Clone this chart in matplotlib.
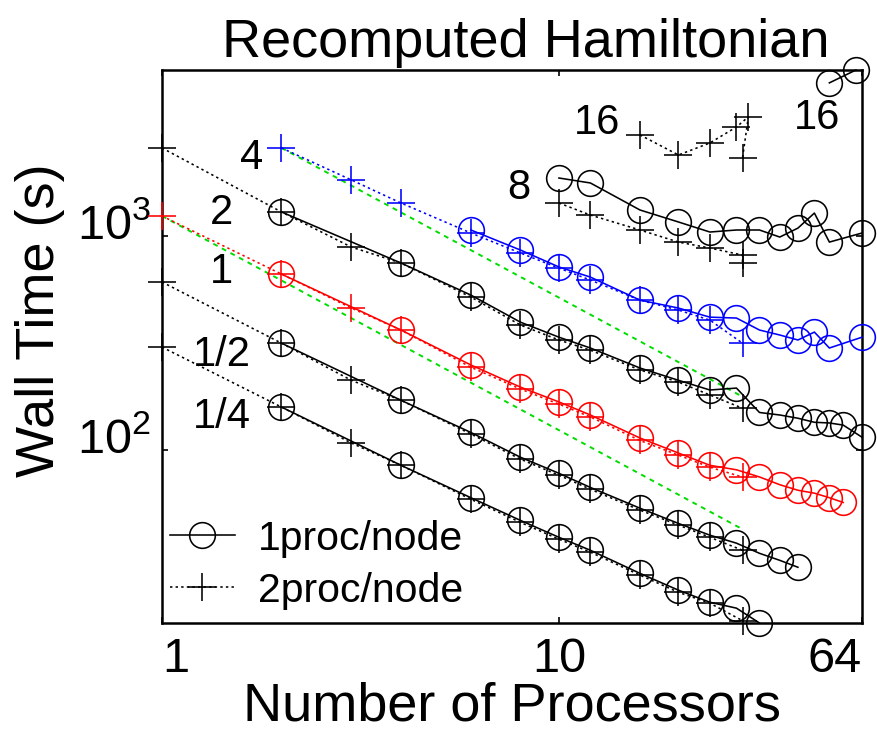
import matplotlib
matplotlib.use('Agg')
import matplotlib.pyplot as plt
import matplotlib.transforms as mtransforms
from matplotlib.lines import Line2D
import numpy as np

plt.rcParams['font.family'] = ['Liberation Sans', 'DejaVu Sans']
plt.rcParams['mathtext.fontset'] = 'custom'
plt.rcParams['mathtext.rm'] = 'Liberation Sans'
plt.rcParams['mathtext.it'] = 'Liberation Sans'
plt.rcParams['mathtext.bf'] = 'Liberation Sans'

# ---------------- data (wall time in seconds) ----------------
size_labels = ['1/4', '1/2', '1', '2', '4', '8', '16', '16']

common_x2 = [1, 2, 3, 4, 6, 8, 10, 12, 16, 20, 24, 29]

quarter_x2 = common_x2
quarter_t2 = [303, 159, 108, 85, 59, 46, 38.4, 33.4, 26.1, 21.7, 19.3, 16.0]
quarter_x1 = [2, 4, 6, 8, 10, 12, 16, 20, 24, 28, 32]
quarter_t1 = [159, 85, 60, 47, 39.2, 34.1, 26.6, 22.2, 19.5, 18.3, 15.6]

half_x2 = common_x2
half_t2 = [610, 316, 212, 171, 119, 90.8, 76.4, 65.7, 52.5, 44.7, 39.2, 34.1]
half_x1 = [2, 4, 6, 8, 10, 12, 16, 20, 24, 28, 32, 36, 40]
half_t1 = [316, 171, 121, 92.7, 78, 67, 53.6, 45.5, 40.1, 36.8, 33.0, 30.6, 28.4]

one_x2 = common_x2
one_t2 = [1240, 664, 461, 364, 244, 193, 164, 143, 111, 94.8, 83.3, 74.9]
one_x1 = [2, 4, 6, 8, 10, 12, 16, 20, 24, 28, 32, 36, 40, 44, 48, 52]
one_t1 = [664, 364, 250, 197, 168, 146, 114, 97, 85, 81, 75, 69, 65, 63, 60, 57]

two_x2 = common_x2
two_t2 = [2578, 1295, 888, 748, 519, 384, 327, 293, 237, 208, 181, 157]
two_x1 = [2, 4, 6, 8, 10, 12, 16, 20, 24, 28, 32, 36, 40, 44, 48, 52, 58]
two_t1 = [1295, 748, 530, 396, 337, 300, 242, 212, 191, 195, 150, 146, 141, 135, 134, 131, 115]

four_x2 = [2, 3, 4, 6, 8, 10, 12, 16, 20, 24, 29]
four_t2 = [2578, 1827, 1426, 1033, 833, 708, 623, 502, 451, 405, 316]
four_x1 = [6, 8, 10, 12, 16, 20, 24, 28, 32, 36, 40, 44, 48, 58]
four_t1 = [1067, 860, 717, 643, 502, 461, 418, 414, 364, 345, 327, 356, 300, 337]

eight_x2 = [10, 12, 16, 20, 24, 29, 29]
eight_t2 = [1426, 1253, 1067, 937, 879, 815, 748]
eight_x1 = [10, 12, 16, 20, 24, 28, 32, 36, 40, 44, 48, 58]
eight_t1 = [1866, 1769, 1323, 1163, 1044, 1067, 1067, 989, 1089, 1280, 937, 1033]

sixteen_x2 = [16, 20, 24, 28, 30, 29]
sixteen_t2 = [2965, 2390, 2720, 3230, 3600, 2314]
sixteen_x1 = [48, 56]
sixteen_t1 = [5190, 5960]

x_ticks = [1, 10, 58]
x_tick_labels = ['1', '10', '64']
y_ticks = [100, 1000]
y_tick_labels = ['$10^2$', '$10^3$']

# ---------------- figure ----------------
fig = plt.figure(figsize=(8.77, 7.32), dpi=100)
ax = fig.add_axes([162/877, 1 - 623/732, 700/877, 553/732])
ax.set_xscale('log')
ax.set_yscale('log')

series = [
    (quarter_x1, quarter_t1, quarter_x2, quarter_t2, 'black'),
    (half_x1, half_t1, half_x2, half_t2, 'black'),
    (one_x1, one_t1, one_x2, one_t2, 'red'),
    (two_x1, two_t1, two_x2, two_t2, 'black'),
    (four_x1, four_t1, four_x2, four_t2, 'blue'),
    (eight_x1, eight_t1, eight_x2, eight_t2, 'black'),
    (sixteen_x1, sixteen_t1, sixteen_x2, sixteen_t2, 'black'),
]

ms_o = 18.5
ms_p = 20
mew = 1.15
lw = 1.15
dot = (0, (1.5, 2.0))

# ideal-scaling reference lines (derived from first points of size 1 and size 4)
for xs, ts in [(one_x2, one_t2), (four_x2, four_t2)]:
    xr = np.array([xs[0], 29.0])
    ax.plot(xr, ts[0] * xs[0] / xr, color='#00dd00', ls=(0, (2.5, 2.5)), lw=1.4, zorder=1)

for x1, t1, x2, t2, c in series:
    ax.plot(x2, t2, color=c, ls=dot, lw=lw, marker='+', ms=ms_p,
            mew=mew, clip_on=False, zorder=3)
    ax.plot(x1, t1, color=c, ls='-', lw=lw, marker='o', ms=ms_o, mfc='none',
            mew=mew, clip_on=False, zorder=4)

ax.set_xlim(1, 58)
ax.set_ylim(15.6, 5960)

ax.set_xticks(x_ticks)
ax.set_xticklabels(x_tick_labels)
ax.xaxis.set_minor_locator(matplotlib.ticker.NullLocator())
ax.set_yticks(y_ticks)
ax.set_yticklabels(y_tick_labels)
ax.yaxis.set_minor_locator(matplotlib.ticker.NullLocator())
ax.tick_params(which='both', direction='in', length=4, width=1.2, top=True, right=True,
               labelsize=35)
ax.tick_params(axis='x', pad=10)
ax.tick_params(axis='y', pad=8)
lbls = ax.get_xticklabels()
lbls[0].set_ha('left')
lbls[-1].set_ha('right')
shift = mtransforms.ScaledTranslation(0, 0.15, fig.dpi_scale_trans)
for lab in ax.get_yticklabels():
    lab.set_transform(lab.get_transform() + shift)

for s in ax.spines.values():
    s.set_linewidth(1.8)

ax.set_title('Recomputed Hamiltonian', fontsize=39, pad=9, x=0.52)
ax.set_xlabel('Number of Processors', fontsize=39)
ax.xaxis.set_label_coords(0.5, -0.105)
ax.set_ylabel('Wall Time (s)', fontsize=39)
ax.yaxis.set_label_coords(-0.139, 0.548)

# size annotations
ann_pos = [(1.415, 143), (1.415, 278), (1.415, 679), (1.41, 1279), (1.685, 2312),
           (7.93, 1675), (12.5, 3375), (44.7, 3556)]
for lab, (xp, yp) in zip(size_labels, ann_pos):
    ax.text(xp, yp, lab, fontsize=30, ha='center', va='center')

handles = [Line2D([], [], color='black', ls='-', lw=lw, marker='o', ms=ms_o, mfc='none', mew=mew),
           Line2D([], [], color='black', ls=dot, lw=lw, marker='+', ms=ms_p, mew=mew)]
ax.legend(handles, ['1proc/node', '2proc/node'], loc='lower left', bbox_to_anchor=(0.011, 0.024),
          frameon=False, fontsize=29.5, handlelength=1.6, handletextpad=0.55, labelspacing=0.34,
          borderpad=0.0, borderaxespad=0.0)

fig.savefig('out.png', dpi=100)
